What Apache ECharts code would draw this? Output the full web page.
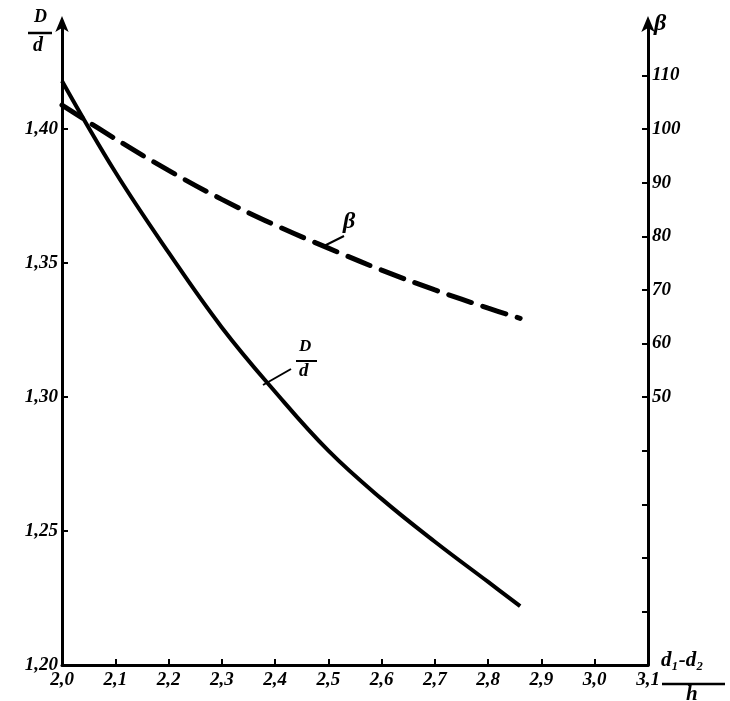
<!DOCTYPE html>
<html><head><meta charset="utf-8">
<script src="https://cdn.jsdelivr.net/npm/echarts@6/dist/echarts.min.js"></script>
<style>html,body{margin:0;padding:0;background:#fff}#c{width:730px;height:701px}</style>
</head><body><div id="c"></div>
<script>
// ---- data ----
const xValues = [2.0, 2.1, 2.2, 2.3, 2.4, 2.5, 2.6, 2.7, 2.8, 2.86];
const ratioValues = [1.418, 1.384, 1.354, 1.326, 1.302, 1.280, 1.262, 1.246, 1.231, 1.222];
const betaValues = [104.5, 98.2, 92.3, 86.9, 82.1, 77.8, 73.7, 70.0, 66.6, 64.7];
const xTicks = [2.0, 2.1, 2.2, 2.3, 2.4, 2.5, 2.6, 2.7, 2.8, 2.9, 3.0, 3.1];
const xTickLabels = ['2,0', '2,1', '2,2', '2,3', '2,4', '2,5', '2,6', '2,7', '2,8', '2,9', '3,0', '3,1'];
const leftTicks = [1.20, 1.25, 1.30, 1.35, 1.40];
const leftTickLabels = ['1,20', '1,25', '1,30', '1,35', '1,40'];
const rightTicks = [0, 10, 20, 30, 40, 50, 60, 70, 80, 90, 100, 110];
const rightLabelTicks = [50, 60, 70, 80, 90, 100, 110];

const FONT = '"Liberation Serif", "DejaVu Serif", serif';
function lookup(ticks, labels, v) {
  for (let i = 0; i < ticks.length; i++) if (Math.abs(ticks[i] - v) < 1e-6) return labels[i];
  return '';
}
const lab = { color: '#000', fontFamily: FONT, fontStyle: 'italic', fontWeight: 'bold', fontSize: 19 };

const chart = echarts.init(document.getElementById('c'), null, { renderer: 'canvas' });
chart.setOption({
  animation: false,
  backgroundColor: '#fff',
  grid: { left: 62, right: 82, top: 22, bottom: 36, containLabel: false },
  xAxis: {
    type: 'value', min: 2.0, max: 3.1,
    axisLine: { show: true, lineStyle: { color: '#000', width: 3 } },
    axisTick: { show: true, inside: true, length: 6, lineStyle: { color: '#000', width: 2 },
      customValues: xTicks.slice(1, xTicks.length - 1) },
    axisLabel: Object.assign({ margin: 6, customValues: xTicks,
      formatter: v => lookup(xTicks, xTickLabels, v) }, lab),
    splitLine: { show: false }
  },
  yAxis: [
    {
      type: 'value', min: 1.20, max: 1.44, position: 'left',
      axisLine: { show: true, onZero: false, lineStyle: { color: '#000', width: 3 },
        symbol: ['none', 'arrow'], symbolSize: [10, 16], symbolOffset: [0, 6] },
      axisTick: { show: true, inside: true, length: 6, lineStyle: { color: '#000', width: 2 },
        customValues: leftTicks.slice(1) },
      axisLabel: Object.assign({ margin: 4, customValues: leftTicks,
        formatter: v => lookup(leftTicks, leftTickLabels, v) }, lab),
      splitLine: { show: false }
    },
    {
      type: 'value', min: 0, max: 120, position: 'right',
      axisLine: { show: true, onZero: false, lineStyle: { color: '#000', width: 3 },
        symbol: ['none', 'arrow'], symbolSize: [10, 16], symbolOffset: [0, 6] },
      axisTick: { show: true, inside: true, length: 6, lineStyle: { color: '#000', width: 2 },
        customValues: rightTicks.slice(1) },
      axisLabel: Object.assign({ margin: 4, customValues: rightLabelTicks,
        formatter: v => String(v) }, lab),
      splitLine: { show: false }
    }
  ],
  series: [
    {
      name: 'D/d', type: 'line', yAxisIndex: 0, symbol: 'none', smooth: 0.4,
      lineStyle: { color: '#000', width: 4 },
      data: xValues.map((x, i) => [x, ratioValues[i]])
    },
    {
      name: 'β', type: 'line', yAxisIndex: 1, symbol: 'none', smooth: 0.4,
      lineStyle: { color: '#000', width: 5, type: [24, 12], cap: 'round' },
      data: xValues.map((x, i) => [x, betaValues[i]])
    }
  ],
  graphic: [
    // left axis name D/d
    { type: 'text', left: 34, top: 8, style: { text: 'D', font: 'italic bold 18px ' + FONT, fill: '#000' } },
    { type: 'line', shape: { x1: 28, y1: 33, x2: 52, y2: 33 }, style: { stroke: '#000', lineWidth: 2.5 } },
    { type: 'text', left: 33, top: 36, style: { text: 'd', font: 'italic bold 20px ' + FONT, fill: '#000' } },
    // right axis name β
    { type: 'text', left: 654, top: 12, style: { text: 'β', font: 'italic bold 24px ' + FONT, fill: '#000' } },
    // x axis name (d1-d2)/h
    { type: 'text', left: 661, top: 650, style: { text: 'd₁-d₂', font: 'italic bold 21px ' + FONT, fill: '#000' } },
    { type: 'line', shape: { x1: 662, y1: 684, x2: 725, y2: 684 }, style: { stroke: '#000', lineWidth: 2.5 } },
    { type: 'text', left: 686, top: 684, style: { text: 'h', font: 'italic bold 21px ' + FONT, fill: '#000' } },
    // curve label D/d
    { type: 'line', shape: { x1: 263, y1: 385, x2: 291, y2: 369 }, style: { stroke: '#000', lineWidth: 2 } },
    { type: 'text', left: 299, top: 338, style: { text: 'D', font: 'italic bold 17px ' + FONT, fill: '#000' } },
    { type: 'line', shape: { x1: 296, y1: 361, x2: 317, y2: 361 }, style: { stroke: '#000', lineWidth: 2 } },
    { type: 'text', left: 299, top: 362, style: { text: 'd', font: 'italic bold 19px ' + FONT, fill: '#000' } },
    // curve label β
    { type: 'line', shape: { x1: 322, y1: 247, x2: 344, y2: 236 }, style: { stroke: '#000', lineWidth: 2 } },
    { type: 'text', left: 343, top: 210, style: { text: 'β', font: 'italic bold 24px ' + FONT, fill: '#000' } }
  ]
});
</script>
</body></html>
